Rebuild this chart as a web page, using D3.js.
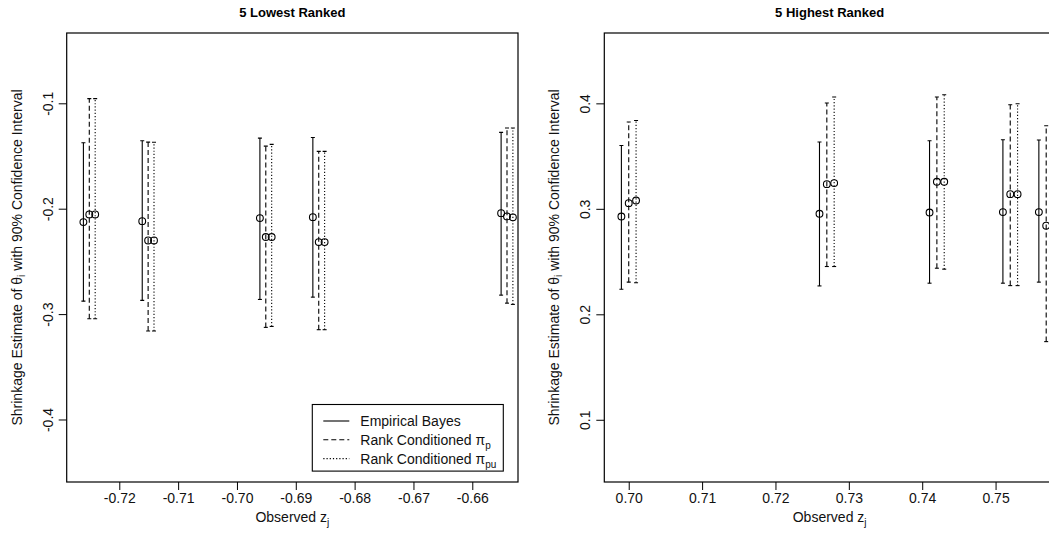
<!DOCTYPE html>
<html>
<head>
<meta charset="utf-8">
<script src="https://cdn.jsdelivr.net/npm/d3@7/dist/d3.min.js"></script>
<style>
  body { margin: 0; background: #fff; }
  svg { display: block; font-family: "Liberation Sans", Arial, Helvetica, sans-serif; }
</style>
</head>
<body>
<svg id="chart" width="1049" height="542"></svg>
<script>
// ---------------- data ----------------
const seriesNames = ["Empirical Bayes", "Rank Conditioned π", "Rank Conditioned π"];
const seriesSubs = ["", "p", "pu"];
const seriesShift = [0, 0.001, 0.002];   // small horizontal jitter used in the original (data units)

// 5 lowest ranked
const lowZ      = [-0.7261, -0.7161, -0.6961, -0.6871, -0.6551];
const lowEbEst  = [-0.2127, -0.2118, -0.2089, -0.2080, -0.2042];
const lowEbLo   = [-0.2877, -0.2870, -0.2861, -0.2839, -0.2820];
const lowEbHi   = [-0.1374, -0.1355, -0.1330, -0.1324, -0.1276];
const lowPpEst  = [-0.2054, -0.2301, -0.2269, -0.2317, -0.2073];
const lowPpLo   = [-0.3044, -0.3161, -0.3126, -0.3148, -0.2896];
const lowPpHi   = [-0.0956, -0.1368, -0.1406, -0.1456, -0.1235];
const lowPpuEst = [-0.2054, -0.2301, -0.2269, -0.2317, -0.2082];
const lowPpuLo  = [-0.3044, -0.3161, -0.3117, -0.3148, -0.2908];
const lowPpuHi  = [-0.0956, -0.1370, -0.1390, -0.1456, -0.1235];
const lowXlim   = [-0.72894, -0.65223];
const lowYlim   = [-0.4593, -0.0333];
const lowXTicks = [-0.72, -0.71, -0.70, -0.69, -0.68, -0.67, -0.66];
const lowYTicks = [-0.4, -0.3, -0.2, -0.1];

// 5 highest ranked
const highZ      = [0.6990, 0.7260, 0.7410, 0.7510, 0.7559];
const highEbEst  = [0.2927, 0.2953, 0.2965, 0.2969, 0.2969];
const highEbLo   = [0.2238, 0.2269, 0.2295, 0.2295, 0.2305];
const highEbHi   = [0.3601, 0.3633, 0.3645, 0.3655, 0.3652];
const highPpEst  = [0.3054, 0.3234, 0.3256, 0.3139, 0.2840];
const highPpLo   = [0.2305, 0.2453, 0.2437, 0.2272, 0.1741];
const highPpHi   = [0.3823, 0.4003, 0.4060, 0.3987, 0.3788];
const highPpuEst = [0.3079, 0.3244, 0.3256, 0.3139, 0.2850];
const highPpuLo  = [0.2299, 0.2453, 0.2428, 0.2272, 0.1730];
const highPpuHi  = [0.3838, 0.4060, 0.4082, 0.3996, 0.3800];
const highXlim   = [0.69667, 0.7581];
const highYlim   = [0.0410, 0.4667];
const highXTicks = [0.70, 0.71, 0.72, 0.73, 0.74, 0.75];
const highYTicks = [0.1, 0.2, 0.3, 0.4];

const titles = ["5 Lowest Ranked", "5 Highest Ranked"];

// ---------------- layout ----------------
const plotTop = 33, plotBottom = 482;
const panelBox = [[66.7, 518], [604.3, 1055]];
const dashes = [null, "5,3", "1.2,2"];

const svg = d3.select("#chart");

const panels = [
  { title: titles[0], z: lowZ, xlim: lowXlim, ylim: lowYlim, xticks: lowXTicks, yticks: lowYTicks, yfmt: 1,
    series: [[lowEbEst, lowEbLo, lowEbHi], [lowPpEst, lowPpLo, lowPpHi], [lowPpuEst, lowPpuLo, lowPpuHi]],
    box: panelBox[0], legend: true },
  { title: titles[1], z: highZ, xlim: highXlim, ylim: highYlim, xticks: highXTicks, yticks: highYTicks, yfmt: 1,
    series: [[highEbEst, highEbLo, highEbHi], [highPpEst, highPpLo, highPpHi], [highPpuEst, highPpuLo, highPpuHi]],
    box: panelBox[1], legend: false }
];

panels.forEach((p, pi) => {
  const [L, R] = p.box;
  const x = d3.scaleLinear().domain(p.xlim).range([L, R]);
  const y = d3.scaleLinear().domain(p.ylim).range([plotBottom, plotTop]);
  const g = svg.append("g");

  const cid = "clip" + pi;
  svg.append("clipPath").attr("id", cid).append("rect")
     .attr("x", L).attr("y", plotTop).attr("width", R - L).attr("height", plotBottom - plotTop);

  // title
  g.append("text").attr("x", (L + R) / 2).attr("y", 12).attr("dy", "0.35em")
   .attr("text-anchor", "middle").attr("font-weight", "bold").attr("font-size", 13)
   .text(p.title);

  // x axis
  const xa = g.append("g").attr("transform", `translate(0,${plotBottom})`)
    .call(d3.axisBottom(x).tickValues(p.xticks).tickSize(8).tickPadding(3).tickFormat(d => d.toFixed(2)));
  xa.select(".domain").remove();
  xa.selectAll("line").attr("stroke", "#000");
  xa.selectAll("text").attr("font-size", 14).attr("fill", "#111").attr("font-family", null);

  // y axis
  const ya = g.append("g").attr("transform", `translate(${L},0)`)
    .call(d3.axisLeft(y).tickValues(p.yticks).tickSize(8).tickFormat(d => d.toFixed(p.yfmt)));
  ya.select(".domain").remove();
  ya.selectAll("line").attr("stroke", "#000");
  ya.selectAll("text").attr("font-size", 14).attr("fill", "#111").attr("font-family", null)
    .attr("x", null).attr("dy", null)
    .attr("text-anchor", "middle")
    .attr("transform", "translate(-19,0) rotate(-90)")
    .attr("dy", "0.35em");

  // axis titles
  const xt = g.append("text").attr("x", (L + R) / 2).attr("y", plotBottom + 35).attr("dy", "0.35em")
    .attr("text-anchor", "middle").attr("font-size", 14).attr("fill", "#111");
  xt.append("tspan").text("Observed z");
  xt.append("tspan").attr("font-size", 10).attr("dy", 4).text("j");

  const yt = g.append("text")
    .attr("transform", `translate(${L - 50},${(plotTop + plotBottom) / 2}) rotate(-90)`)
    .attr("dy", "0.35em").attr("text-anchor", "middle").attr("font-size", 14).attr("fill", "#111");
  yt.append("tspan").text("Shrinkage Estimate of θ");
  yt.append("tspan").attr("font-size", 10).attr("dy", 3).text("i");
  yt.append("tspan").attr("dy", -3).text(" with 90% Confidence Interval");

  // series
  const marks = g.append("g").attr("clip-path", `url(#${cid})`);
  p.series.forEach((s, si) => {
    const [est, lo, hi] = s;
    const rows = p.z.map((z, i) => ({ xv: z + seriesShift[si], est: est[i], lo: lo[i], hi: hi[i] }));
    const sg = marks.append("g");
    sg.selectAll("line.bar").data(rows).join("line").attr("class", "bar")
      .attr("x1", d => x(d.xv)).attr("x2", d => x(d.xv))
      .attr("y1", d => y(d.lo)).attr("y2", d => y(d.hi))
      .attr("stroke", "#000").attr("stroke-width", 1.1)
      .attr("stroke-dasharray", dashes[si]);
    ["lo", "hi"].forEach(k => {
      sg.selectAll("line.cap" + k).data(rows).join("line").attr("class", "cap" + k)
        .attr("x1", d => x(d.xv) - 2).attr("x2", d => x(d.xv) + 2)
        .attr("y1", d => y(d[k])).attr("y2", d => y(d[k]))
        .attr("stroke", "#000").attr("stroke-width", 1.1);
    });
    sg.selectAll("circle").data(rows).join("circle")
      .attr("cx", d => x(d.xv)).attr("cy", d => y(d.est)).attr("r", 3.4)
      .attr("fill", "none").attr("stroke", "#000").attr("stroke-width", 1.1);
  });

  // box
  g.append("rect").attr("x", L).attr("y", plotTop).attr("width", R - L).attr("height", plotBottom - plotTop)
   .attr("fill", "none").attr("stroke", "#000").attr("stroke-width", 1.2);

  // legend
  if (p.legend) {
    const lx = 312.3, ly = 404.5, lw = 191, lh = 66.6;
    const lg = g.append("g");
    lg.append("rect").attr("x", lx).attr("y", ly).attr("width", lw).attr("height", lh)
      .attr("fill", "#fff").attr("stroke", "#000").attr("stroke-width", 1.1);
    seriesNames.forEach((nm, i) => {
      const yy = ly + 16.5 + i * 18.8;
      lg.append("line").attr("x1", lx + 11).attr("x2", lx + 37).attr("y1", yy).attr("y2", yy)
        .attr("stroke", "#000").attr("stroke-width", 1.1).attr("stroke-dasharray", dashes[i]);
      const t = lg.append("text").attr("x", lx + 48).attr("y", yy).attr("dy", "0.35em")
        .attr("font-size", 14).attr("fill", "#111");
      t.append("tspan").text(nm);
      if (seriesSubs[i]) t.append("tspan").attr("font-size", 10).attr("dy", 4).text(seriesSubs[i]);
    });
  }
});
</script>
</body>
</html>
